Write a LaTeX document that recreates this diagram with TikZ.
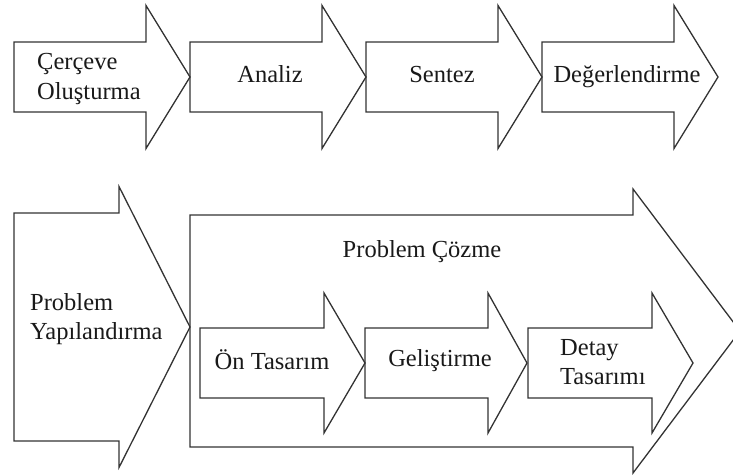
\documentclass[tikz,border=0pt]{standalone}
\usepackage{fontspec}
\setmainfont{Liberation Serif}

\newcommand{\blockarrow}[6]{% left, shaft end, tip, centre, half shaft, half head
	\draw [block] (#1, #4 - #5) -- (#2, #4 - #5) -- (#2, #4 - #6) -- (#3, #4)
		-- (#2, #4 + #6) -- (#2, #4 + #5) -- (#1, #4 + #5) -- cycle;}

\begin{document}
\begin{tikzpicture}[x = 1pt, y = -1pt, font = \fontsize{24.5}{29.5}\selectfont,
	block/.style = {draw = black!80, line width = 1.3pt, line join = miter},
	txt/.style = {inner sep = 0pt, text = black!90, align = left}]

	\useasboundingbox (0, 0) rectangle (733, 475);

	% Top row
	
		% Arrows
		
		\blockarrow{14}{146}{190}{77}{35}{71.5}
		\blockarrow{190}{322}{366}{77}{35}{71.5}
		\blockarrow{366}{498}{542}{77}{35}{71.5}
		\blockarrow{542}{674}{718}{77}{35}{71.5}
		
		% Texts
		
		\node (frame) [txt, anchor = west] at (37, 79) {Çerçeve\\Oluşturma};
		\node (analysis) [txt, anchor = base] at (270, 82) {Analiz};
		\node (synthesis) [txt, anchor = base] at (442, 82) {Sentez};
		\node (evaluation) [txt, anchor = base] at (627, 82) {Değerlendirme};
		
	% Bottom row
	
		% Outer arrows
		
		\blockarrow{14}{119}{190}{327}{114}{140.5}
		\blockarrow{190}{633}{740}{331}{116}{142}
		
		% Inner arrows
		
		\blockarrow{200}{324}{365}{363}{35}{70}
		\blockarrow{365}{488}{527}{363}{35}{70}
		\blockarrow{528}{652}{693}{363}{35}{70}
		
		% Texts
		
		\node (structuring) [txt, anchor = west] at (30, 319) {Problem\\Yapılandırma};
		\node (solving) [txt, anchor = base] at (422, 257) {Problem Çözme};
		\node (predesign) [txt, anchor = base] at (272, 369) {Ön Tasarım};
		\node (development) [txt, anchor = base] at (440, 366) {Geliştirme};
		\node (detail) [txt, anchor = west] at (560, 362) {Detay\\Tasarımı};

\end{tikzpicture}
\end{document}
